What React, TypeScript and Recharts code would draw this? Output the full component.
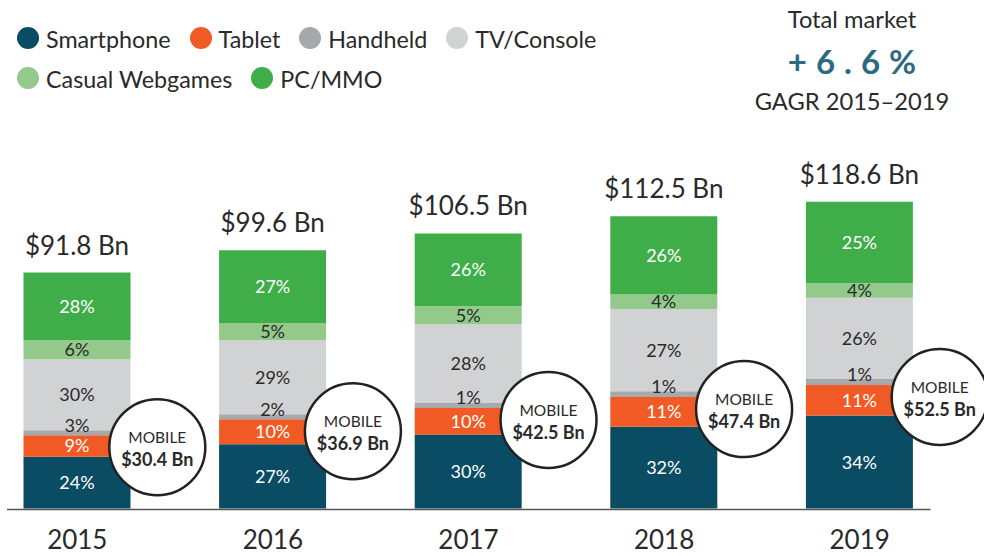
import {
  Bar,
  ComposedChart,
  LabelList,
  Line,
  ReferenceLine,
  XAxis,
  YAxis,
} from "recharts";

const YEARS = ["2015", "2016", "2017", "2018", "2019"];

// segment sizes in $Bn
const SMARTPHONE = [20.1, 25.0, 28.8, 31.8, 36.1];
const TABLET = [8.4, 9.7, 10.3, 11.5, 11.9];
const HANDHELD = [1.9, 1.9, 2.1, 2.3, 2.3];
const TV_CONSOLE = [27.6, 28.8, 30.4, 31.9, 31.6];
const CASUAL = [7.4, 6.7, 7.0, 5.7, 5.6];
const PC_MMO = [26.3, 28.3, 28.3, 30.4, 31.7];

// printed share labels
const SMARTPHONE_PCT = ["24%", "27%", "30%", "32%", "34%"];
const TABLET_PCT = ["9%", "10%", "10%", "11%", "11%"];
const HANDHELD_PCT = ["3%", "2%", "1%", "1%", "1%"];
const TV_PCT = ["30%", "29%", "28%", "27%", "26%"];
const CASUAL_PCT = ["6%", "5%", "5%", "4%", "4%"];
const PC_PCT = ["28%", "27%", "26%", "26%", "25%"];

const TOTALS = ["$91.8 Bn", "$99.6 Bn", "$106.5 Bn", "$112.5 Bn", "$118.6 Bn"];
const MOBILE = ["$30.4 Bn", "$36.9 Bn", "$42.5 Bn", "$47.4 Bn", "$52.5 Bn"];

const SERIES = [
  { key: "smartphone", name: "Smartphone", color: "#0a4c63" },
  { key: "tablet", name: "Tablet", color: "#f15a24" },
  { key: "handheld", name: "Handheld", color: "#a7a8ab" },
  { key: "tv", name: "TV/Console", color: "#d1d2d4" },
  { key: "casual", name: "Casual Webgames", color: "#93c98a" },
  { key: "pc", name: "PC/MMO", color: "#3fae49" },
];

const FONT = "Lato, 'Open Sans', sans-serif";
const DARK = "#2a2a2a";
const SEG_FONT = 18;

const data = YEARS.map((year, i) => ({
  year,
  smartphone: SMARTPHONE[i],
  tablet: TABLET[i],
  handheld: HANDHELD[i],
  tv: TV_CONSOLE[i],
  casual: CASUAL[i],
  pc: PC_MMO[i],
  mobileTop: SMARTPHONE[i] + TABLET[i],
}));

function box(props: any) {
  const vb = props.viewBox ?? props;
  return { x: vb.x, y: vb.y, width: vb.width, height: vb.height };
}

function segmentLabel(labels: string[], color: string) {
  return (props: any) => {
    const { x, y, width, height } = box(props);
    return (
      <text
        x={x + width / 2}
        y={y + height / 2 + 6.5}
        textAnchor="middle"
        fill={color}
        fontSize={SEG_FONT}
        fontFamily={FONT}
      >
        {labels[props.index]}
      </text>
    );
  };
}

// TV bar draws its own label plus the handheld one sitting just above the grey sliver
function tvLabel(props: any) {
  const { x, y, width, height } = box(props);
  const cx = x + width / 2;
  return (
    <g>
      <text x={cx} y={y + height / 2 + 6.5} textAnchor="middle" fill={DARK} fontSize={SEG_FONT} fontFamily={FONT}>
        {TV_PCT[props.index]}
      </text>
      <text x={cx} y={y + height + 2} textAnchor="middle" fill={DARK} fontSize={SEG_FONT} fontFamily={FONT}>
        {HANDHELD_PCT[props.index]}
      </text>
    </g>
  );
}

function pcLabel(props: any) {
  const { x, y, width, height } = box(props);
  const cx = x + width / 2;
  return (
    <g>
      <text x={cx} y={y + height / 2 + 6.5} textAnchor="middle" fill="#fff" fontSize={SEG_FONT} fontFamily={FONT}>
        {PC_PCT[props.index]}
      </text>
      <text x={cx} y={y - 18} textAnchor="middle" fill={DARK} fontSize={26} fontFamily={FONT}>
        {TOTALS[props.index]}
      </text>
    </g>
  );
}

function MobileBadge(props: any) {
  const { cx, cy, index } = props;
  if (cx == null || cy == null) return null;
  const x = cx + 80;
  const y = cy + 12;
  return (
    <g key={`badge-${index}`}>
      <circle cx={x} cy={y} r={48} fill="#fff" stroke="#222" strokeWidth={2.5} />
      <text x={x} y={y - 4} textAnchor="middle" fill={DARK} fontSize={15.5} fontFamily={FONT}>
        MOBILE
      </text>
      <text x={x} y={y + 19} textAnchor="middle" fill={DARK} fontSize={18} fontWeight={700} fontFamily={FONT}>
        {MOBILE[index]}
      </text>
    </g>
  );
}

function YearTick(props: any) {
  const { x, y, payload } = props;
  return (
    <text x={x} y={y + 40} textAnchor="middle" fill={DARK} fontSize={26} fontFamily={FONT}>
      {payload.value}
    </text>
  );
}

export default function App() {
  return (
    <div
      style={{
        position: "absolute",
        left: 0,
        top: 0,
        width: 984,
        height: 556,
        overflow: "hidden",
        background: "#fff",
        fontFamily: FONT,
        color: DARK,
      }}
    >
      <div
        style={{
          position: "absolute",
          left: 17,
          top: 28,
          width: 620,
          display: "flex",
          flexWrap: "wrap",
          columnGap: 19,
          rowGap: 18,
        }}
      >
        {SERIES.map((s) => (
          <div key={s.key} style={{ display: "flex", alignItems: "center", fontSize: 23.3, lineHeight: "22px" }}>
            <span
              style={{
                display: "inline-block",
                width: 22,
                height: 22,
                borderRadius: 11,
                background: s.color,
                marginRight: 7,
                position: "relative",
                top: -1.5,
              }}
            />
            {s.name}
          </div>
        ))}
      </div>

      <div style={{ position: "absolute", left: 752, top: 0, width: 200, textAlign: "center" }}>
        <div style={{ position: "absolute", left: 0, width: 200, top: 7, fontSize: 23.7, lineHeight: "24px" }}>
          Total market
        </div>
        <div
          style={{
            position: "absolute",
            left: 0,
            width: 200,
            top: 45,
            fontSize: 33,
            lineHeight: "33px",
            fontWeight: 700,
            color: "#2c6a84",
            letterSpacing: 9,
            textIndent: 9,
          }}
        >
          +6.6%
        </div>
        <div style={{ position: "absolute", left: 0, width: 200, top: 89, fontSize: 23.7, lineHeight: "24px" }}>
          GAGR 2015–2019
        </div>
      </div>

      <div style={{ position: "absolute", left: -21, top: 0 }}>
        <ComposedChart
          width={1005}
          height={556}
          data={data}
          margin={{ top: 199.7, right: 26.5, bottom: 0, left: 0.5 }}
        >
          <XAxis
            dataKey="year"
            height={47.5}
            axisLine={false}
            tickLine={false}
            tickSize={0}
            tickMargin={0}
            interval={0}
            tick={<YearTick />}
          />
          <YAxis hide domain={[0, 120]} />
          <Bar dataKey="smartphone" stackId="m" fill={SERIES[0].color} barSize={107} isAnimationActive={false}>
            <LabelList dataKey="smartphone" content={segmentLabel(SMARTPHONE_PCT, "#fff")} />
          </Bar>
          <Bar dataKey="tablet" stackId="m" fill={SERIES[1].color} barSize={107} isAnimationActive={false}>
            <LabelList dataKey="tablet" content={segmentLabel(TABLET_PCT, "#fff")} />
          </Bar>
          <Bar dataKey="handheld" stackId="m" fill={SERIES[2].color} barSize={107} isAnimationActive={false} />
          <Bar dataKey="tv" stackId="m" fill={SERIES[3].color} barSize={107} isAnimationActive={false}>
            <LabelList dataKey="tv" content={tvLabel} />
          </Bar>
          <Bar dataKey="casual" stackId="m" fill={SERIES[4].color} barSize={107} isAnimationActive={false}>
            <LabelList dataKey="casual" content={segmentLabel(CASUAL_PCT, DARK)} />
          </Bar>
          <Bar dataKey="pc" stackId="m" fill={SERIES[5].color} barSize={107} isAnimationActive={false}>
            <LabelList dataKey="pc" content={pcLabel} />
          </Bar>
          <ReferenceLine
            y={0}
            shape={(p: any) => (
              <line x1={p.x1 + 27.5} y1={p.y1 + 1} x2={p.x2 - 27} y2={p.y2 + 1} stroke="#555" strokeWidth={1.5} />
            )}
          />
          <Line
            dataKey="mobileTop"
            stroke="none"
            dot={(p: any) => <MobileBadge key={`b-${p.index}`} {...p} />}
            activeDot={false}
            isAnimationActive={false}
          />
        </ComposedChart>
      </div>
    </div>
  );
}
